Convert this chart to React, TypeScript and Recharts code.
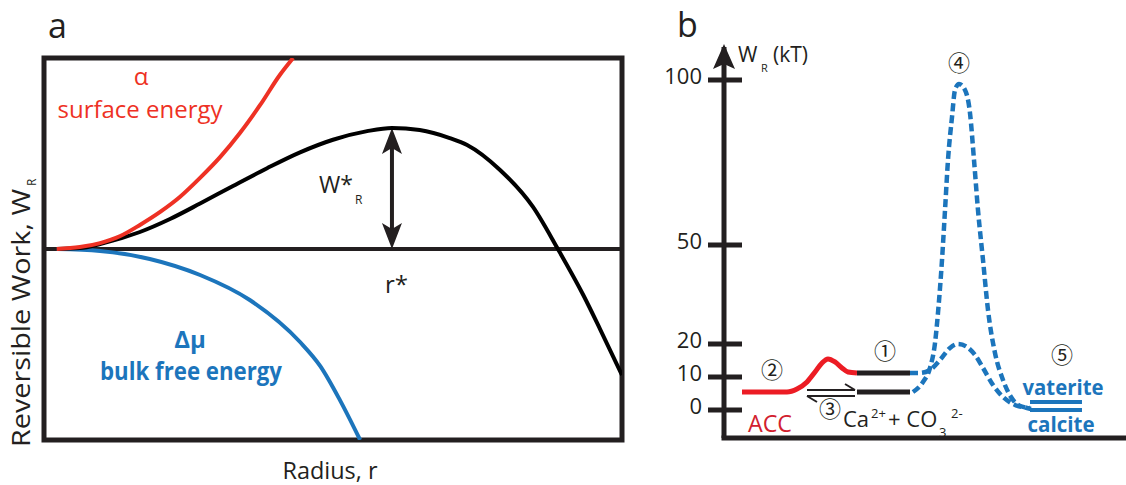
import React from 'react';
import { LineChart, Line, XAxis, YAxis, ReferenceLine, Customized } from 'recharts';

// ---------- colours / fonts ----------
const INK = '#231f20';
const RED_A = '#ee3124';
const BLUE = '#1c75bc';
const RED_B = '#ec1c24';
const ACC_RED = '#d2202e';
const FONT = '"Open Sans", "Noto Sans", sans-serif';
const CIRCLED = '"Noto Sans CJK JP", "DejaVu Sans", sans-serif';

// ---------- panel a data (radius r, reversible work W, arbitrary units) ----------
const surfaceR = [0.22, 0.62, 0.97, 1.32, 1.66, 2.01, 2.35, 2.7, 3.05, 3.39, 3.74, 4.08, 4.31];
const surfaceW = [0, 0.1, 0.31, 0.68, 1.26, 1.94, 2.72, 3.72, 4.82, 6.07, 7.54, 9.11, 10];

const bulkR = [0.22, 0.97, 1.83, 2.7, 3.56, 4.43, 4.78, 5.12, 5.47];
const bulkW = [0, -0.1, -0.52, -1.36, -2.67, -4.87, -6.13, -7.91, -10];

const totalR = [0.22, 0.62, 0.97, 1.66, 2.18, 2.7, 3.27, 3.86, 4.43, 5.0, 5.59, 6.02, 6.5, 7.02, 7.32, 7.89, 8.46, 8.89, 9.33, 9.62, 10];
const totalW = [0, 0.05, 0.26, 0.89, 1.57, 2.38, 3.3, 4.23, 5.06, 5.72, 6.17, 6.34, 6.23, 5.81, 5.45, 4.14, 2.2, 0, -2.41, -4.19, -6.6];

const criticalR = 6.02;
const criticalW = 6.34;

// ---------- panel b data (reaction coordinate, W_R in kT) ----------
const accX = [4.48, 8.96, 15.67, 18.16, 20.65, 22.64, 24.38, 25.87, 27.61, 29.35, 30.85, 33.08];
const accW = [5.45, 5.45, 5.45, 6.36, 8.48, 11.5, 14.24, 15.45, 14.55, 12.73, 11.5, 11.2];

const upperIonX = [33.08, 46.27];
const upperIonW = [11.2, 11.2];
const lowerIonX = [33.08, 46.27];
const lowerIonW = [5.45, 5.45];

const highBarrierX = [47.01, 49.5, 51.24, 52.49, 53.23, 54.23, 54.98, 55.72, 56.72, 57.46, 58.46, 59.95, 61.19, 62.19, 63.18, 64.43, 65.67, 67.41, 69.4, 71.89, 74.38, 76.12];
const highBarrierW = [5.45, 8.48, 12.73, 20.3, 29.39, 45.45, 60.6, 75.76, 88.79, 96.97, 98.79, 96.97, 90.0, 75.76, 60.6, 45.45, 30.3, 17.27, 9.09, 3.03, 0.91, 0.6];

const lowBarrierX = [46.27, 48.76, 51.24, 53.73, 56.22, 58.21, 60.45, 62.44, 64.43, 66.92, 69.4, 72.39, 75.37, 76.37];
const lowBarrierW = [11.21, 11.21, 12.12, 15.15, 18.79, 20.0, 19.09, 16.67, 12.73, 7.58, 3.94, 1.52, 0.6, 0.3];

const vateriteX = [76.12, 89.05];
const vateriteW = [2.42, 2.42];
const calciteX = [76.12, 89.05];
const calciteW = [0, 0];

const bTicks = [0, 10, 20, 50, 100];

const toPts = (xs: number[], ys: number[]) => xs.map((x, i) => ({ x, y: ys[i] }));

// ---------- layout ----------
const CW = 1126;
const CH = 485;

const A_LEFT = 44, A_RIGHT = 622, A_TOP = 58, A_BOTTOM = 440;
const A_XD: [number, number] = [0, 10];
const A_YD: [number, number] = [-10, 10];
const ax = (v: number) => A_LEFT + ((v - A_XD[0]) / (A_XD[1] - A_XD[0])) * (A_RIGHT - A_LEFT);
const ay = (v: number) => A_BOTTOM - ((v - A_YD[0]) / (A_YD[1] - A_YD[0])) * (A_BOTTOM - A_TOP);

const B_AXIS_X = 724, B_TOP = 47, B_BOTTOM = 438;
const B_YAXIS_W = 60;
const B_XD: [number, number] = [0, 100];
const B_YD: [number, number] = [-8.5, 110];

// ---------- overlays ----------
function OverlayA() {
  const x = ax(criticalR);
  const yTop = ay(criticalW);
  const yBot = ay(0);
  const hw = 10, hl = 24;
  return (
    <g>
      <rect x={A_LEFT} y={A_TOP} width={A_RIGHT - A_LEFT} height={A_BOTTOM - A_TOP} fill="none" stroke={INK} strokeWidth={5} />
      {/* W*_R double arrow */}
      <line x1={x} x2={x} y1={yTop + hl - 6} y2={yBot - hl + 6} stroke={INK} strokeWidth={4} />
      <path d={`M${x},${yTop} L${x + hw},${yTop + hl + 2} L${x},${yTop + hl - 4} L${x - hw},${yTop + hl + 2} Z`} fill={INK} />
      <path d={`M${x},${yBot} L${x + hw},${yBot - hl - 2} L${x},${yBot - hl + 4} L${x - hw},${yBot - hl - 2} Z`} fill={INK} />

      <text x={48} y={38} fontSize={34} fontFamily={FONT} fill={INK}>a</text>
      <text x={141} y={85} fontSize={24} fontFamily={FONT} fill={RED_A} textAnchor="middle">α</text>
      <text x={140} y={118} fontSize={23} fontFamily={FONT} fill={RED_A} textAnchor="middle" textLength={165} lengthAdjust="spacingAndGlyphs">surface energy</text>

      <text x={319} y={193} fontSize={23} fontFamily={FONT} fill={INK} textLength={34} lengthAdjust="spacingAndGlyphs">W*</text>
      <text x={355} y={204} fontSize={12} fontFamily={FONT} fill={INK}>R</text>
      <text x={385} y={293} fontSize={24} fontFamily={FONT} fill={INK}>r*</text>

      <text x={190} y={348} fontSize={24} fontWeight="bold" fontFamily={FONT} fill={BLUE} textAnchor="middle">Δμ</text>
      <text x={191} y={380} fontSize={25} fontWeight="bold" fontFamily={FONT} fill={BLUE} textAnchor="middle" textLength={182} lengthAdjust="spacingAndGlyphs">bulk free energy</text>

      <text x={330} y={479} fontSize={24} fontFamily={FONT} fill={INK} textAnchor="middle" textLength={95} lengthAdjust="spacingAndGlyphs">Radius, r</text>
      <text transform="translate(30,447) rotate(-90)" fontSize={25} fontFamily={FONT} fill={INK} textLength={258} lengthAdjust="spacingAndGlyphs">Reversible Work, W</text>
      <text transform="translate(36,186) rotate(-90)" fontSize={12} fontFamily={FONT} fill={INK}>R</text>
    </g>
  );
}

function OverlayB() {
  const ax0 = B_AXIS_X;
  return (
    <g>
      {/* axis arrow head */}
      <path d={`M${ax0},${44} L${ax0 + 11},${69} L${ax0},${64} L${ax0 - 11},${69} Z`} fill={INK} />
      <text x={677} y={37} fontSize={34} fontFamily={FONT} fill={INK}>b</text>
      <text x={738} y={62} fontSize={21} fontFamily={FONT} fill={INK}>W</text>
      <text x={761} y={72} fontSize={11} fontFamily={FONT} fill={INK}>R</text>
      <text x={773} y={62} fontSize={21} fontFamily={FONT} fill={INK}>(kT)</text>

      {/* equilibrium harpoons */}
      <line x1={807} x2={855} y1={390} y2={390} stroke={INK} strokeWidth={2} />
      <line x1={855} x2={845} y1={390} y2={384} stroke={INK} strokeWidth={2} />
      <line x1={807} x2={855} y1={396} y2={396} stroke={INK} strokeWidth={2} />
      <line x1={807} x2={817} y1={396} y2={402} stroke={INK} strokeWidth={2} />

      <text x={772} y={378} fontSize={22} fontFamily={CIRCLED} fill={INK} textAnchor="middle">②</text>
      <text x={885} y={359} fontSize={22} fontFamily={CIRCLED} fill={INK} textAnchor="middle">①</text>
      <text x={830} y={417} fontSize={22} fontFamily={CIRCLED} fill={INK} textAnchor="middle">③</text>
      <text x={959} y={71} fontSize={22} fontFamily={CIRCLED} fill={INK} textAnchor="middle">④</text>
      <text x={1062} y={363} fontSize={22} fontFamily={CIRCLED} fill={INK} textAnchor="middle">⑤</text>

      <text x={748} y={432} fontSize={24} fontFamily={FONT} fill={ACC_RED} textLength={44} lengthAdjust="spacingAndGlyphs">ACC</text>
      <text fontFamily={FONT} fill={INK}>
        <tspan x={843} y={427} fontSize={22}>Ca</tspan>
        <tspan x={871} y={418} fontSize={13}>2+</tspan>
        <tspan x={888} y={427} fontSize={22}>+ CO</tspan>
        <tspan x={939} y={437} fontSize={13}>3</tspan>
        <tspan x={951} y={418} fontSize={13}>2-</tspan>
      </text>

      <text x={1063} y={395} fontSize={21} fontWeight="bold" fontFamily={FONT} fill={BLUE} textAnchor="middle" textLength={81} lengthAdjust="spacingAndGlyphs">vaterite</text>
      <text x={1061} y={432} fontSize={21} fontWeight="bold" fontFamily={FONT} fill={BLUE} textAnchor="middle" textLength={67} lengthAdjust="spacingAndGlyphs">calcite</text>
    </g>
  );
}

const BTick = (props: any) => {
  const { y, payload } = props;
  return (
    <g>
      <line x1={B_AXIS_X - 16} x2={B_AXIS_X + 18} y1={y} y2={y} stroke={INK} strokeWidth={5} />
      <text x={B_AXIS_X - 22} y={y + 4} textAnchor="end" fontSize={22} fontFamily={FONT} fill={INK}>
        {payload.value}
      </text>
    </g>
  );
};

export default function App() {
  const lineCommon = { dot: false, activeDot: false, isAnimationActive: false, dataKey: 'y' } as const;
  return (
    <div style={{ position: 'absolute', left: 0, top: 0, width: CW, height: CH, background: '#fff' }}>
      {/* Panel a */}
      <div style={{ position: 'absolute', left: 0, top: 0 }}>
        <LineChart
          width={CW}
          height={CH}
          margin={{ top: A_TOP, left: A_LEFT, right: CW - A_RIGHT, bottom: CH - A_BOTTOM }}
        >
          <XAxis type="number" dataKey="x" domain={A_XD} hide allowDataOverflow />
          <YAxis type="number" domain={A_YD} hide allowDataOverflow />
          <ReferenceLine y={0} stroke={INK} strokeWidth={4} />
          <Line {...lineCommon} data={toPts(bulkR, bulkW)} type="monotone" stroke={BLUE} strokeWidth={4} />
          <Line {...lineCommon} data={toPts(totalR, totalW)} type="monotone" stroke="#000" strokeWidth={4} />
          <Line {...lineCommon} data={toPts(surfaceR, surfaceW)} type="monotone" stroke={RED_A} strokeWidth={4} />
          <Customized component={OverlayA} />
        </LineChart>
      </div>

      {/* Panel b */}
      <div style={{ position: 'absolute', left: 0, top: 0 }}>
        <LineChart
          width={CW}
          height={CH}
          margin={{ top: B_TOP, left: B_AXIS_X - B_YAXIS_W, right: 0, bottom: CH - B_BOTTOM - 1 }}
        >
          <XAxis
            type="number"
            dataKey="x"
            domain={B_XD}
            allowDataOverflow
            height={1}
            tick={false}
            tickLine={false}
            axisLine={{ stroke: INK, strokeWidth: 5, strokeLinecap: 'square' }}
          />
          <YAxis
            type="number"
            domain={B_YD}
            allowDataOverflow
            width={B_YAXIS_W}
            ticks={bTicks}
            interval={0}
            tickLine={false}
            tick={<BTick />}
            axisLine={{ stroke: INK, strokeWidth: 5 }}
          />
          <Line {...lineCommon} data={toPts(accX, accW)} type="monotone" stroke={RED_B} strokeWidth={5} />
          <Line {...lineCommon} data={toPts(upperIonX, upperIonW)} type="linear" stroke={INK} strokeWidth={5} />
          <Line {...lineCommon} data={toPts(lowerIonX, lowerIonW)} type="linear" stroke={INK} strokeWidth={5} />
          <Line {...lineCommon} data={toPts(highBarrierX, highBarrierW)} type="monotone" stroke={BLUE} strokeWidth={4.5} strokeDasharray="8 4" />
          <Line {...lineCommon} data={toPts(lowBarrierX, lowBarrierW)} type="monotone" stroke={BLUE} strokeWidth={4.5} strokeDasharray="8 4" />
          <Line {...lineCommon} data={toPts(vateriteX, vateriteW)} type="linear" stroke={BLUE} strokeWidth={4} />
          <Line {...lineCommon} data={toPts(calciteX, calciteW)} type="linear" stroke={BLUE} strokeWidth={4} />
          <Customized component={OverlayB} />
        </LineChart>
      </div>
    </div>
  );
}
